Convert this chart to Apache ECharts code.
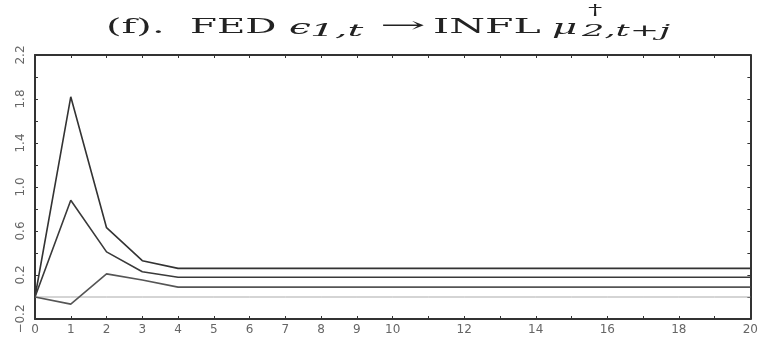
<!DOCTYPE html>
<html><head><meta charset="utf-8">
<script src="https://cdn.jsdelivr.net/npm/echarts@6/dist/echarts.min.js"></script>
<style>html,body{margin:0;padding:0;background:#fff}#c{width:761px;height:338px}</style>
</head><body><div id="c"></div>
<script>
var horizons = [0,1,2,3,4,5,6,7,8,9,10,11,12,13,14,15,16,17,18,19,20];
var upperBand = [0,1.82,0.63,0.33,0.26,0.26,0.26,0.26,0.26,0.26,0.26,0.26,0.26,0.26,0.26,0.26,0.26,0.26,0.26,0.26,0.26];
var response  = [0,0.88,0.41,0.23,0.18,0.18,0.18,0.18,0.18,0.18,0.18,0.18,0.18,0.18,0.18,0.18,0.18,0.18,0.18,0.18,0.18];
var lowerBand = [0,-0.065,0.21,0.155,0.09,0.09,0.09,0.09,0.09,0.09,0.09,0.09,0.09,0.09,0.09,0.09,0.09,0.09,0.09,0.09,0.09];
var zeroLine  = [0,0,0,0,0,0,0,0,0,0,0,0,0,0,0,0,0,0,0,0,0];
var xTickLabels = ['0','1','2','3','4','5','6','7','8','9','10','','12','','14','','16','','18','','20'];
var yTickLabels = ['−0.2','','0.2','','0.6','','1.0','','1.4','','1.8','','2.2'];

function pairs(ys){ return horizons.map(function(x,i){ return [x, ys[i]]; }); }
function lineSeries(name, ys, color, w){
  return {name:name, type:'line', data:pairs(ys), symbol:'none', silent:true,
    lineStyle:{color:color, width:w}, z: 3};
}
var serif = "'DejaVu Serif', 'Liberation Serif', serif";
function txt(s, x, y, size, italic, sx){
  return {type:'text', x:x, y:y, scaleX:sx, silent:true,
    style:{text:s, fill:'#222', font:(italic?'italic ':'')+size+'px '+serif,
      align:'left', verticalAlign:'middle'}};
}
var titleParts = [
  txt('(f).', 106, 28, 21, false, 1.9),
  txt('FED', 190, 28, 21, false, 1.85),
  txt('ϵ', 289, 29, 21, true, 1.85),
  txt('1,t', 310, 32, 16, true, 2.45),
  txt('→', 380, 27, 21, false, 2.6),
  txt('INFL', 433, 28, 21, false, 1.95),
  txt('μ', 552, 29, 21, true, 1.85),
  txt('†', 588, 11, 15, false, 1.9),
  txt('2,t+j', 582, 32, 16, true, 2.2)
];
var chart = echarts.init(document.getElementById('c'), null, {renderer:'canvas'});
var axisCommon = {
  axisLine:{show:true, onZero:false, lineStyle:{color:'#333', width:2}},
  axisTick:{show:true, inside:true, length:3, lineStyle:{color:'#333'}},
  splitLine:{show:false}
};
function ax(extra){ return Object.assign({}, axisCommon, extra); }
chart.setOption({
  animation:false,
  graphic:titleParts,
  grid:{left:35, right:8, top:55, bottom:19, show:false},
  xAxis:[ax({
    type:'value', min:0, max:20, interval:1, position:'bottom',
    axisLabel:{color:'#666', fontSize:12, fontFamily:"'DejaVu Sans', sans-serif", margin:5,
      formatter:function(v){ return xTickLabels[Math.round(v)] || ''; }}
  }), ax({
    type:'value', min:0, max:20, interval:1, position:'top', axisLabel:{show:false}
  })],
  yAxis:[ax({
    type:'value', min:-0.2, max:2.2, interval:0.2, position:'left',
    axisLabel:{color:'#666', fontSize:12, fontFamily:"'DejaVu Sans', sans-serif", rotate:90, margin:8,
      formatter:function(v){ return yTickLabels[Math.round((v+0.2)/0.2)] || ''; }}
  }), ax({
    type:'value', min:-0.2, max:2.2, interval:0.2, position:'right', axisLabel:{show:false}
  })],
  series:[
    lineSeries('zero', zeroLine, '#aaaaaa', 1),
    lineSeries('upper', upperBand, '#333333', 1.6),
    lineSeries('response', response, '#3a3a3a', 1.6),
    lineSeries('lower', lowerBand, '#555555', 1.6)
  ]
});
</script></body></html>
